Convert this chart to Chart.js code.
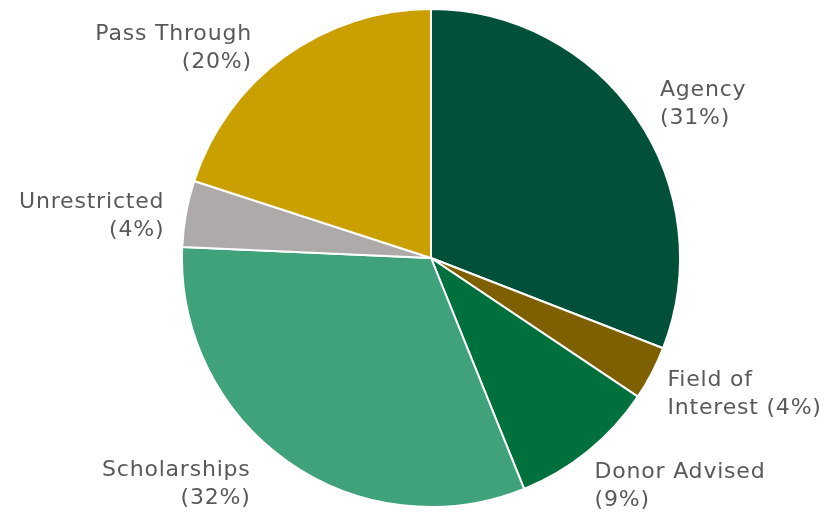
<!DOCTYPE html>
<html>
<head>
<meta charset="utf-8">
<script src="https://cdn.jsdelivr.net/npm/chart.js@4"></script>
<style>
  html, body { margin: 0; padding: 0; background: #fff; }
  #wrap { width: 832px; height: 512px; }
</style>
</head>
<body>
<div id="wrap"><canvas id="chart"></canvas></div>
<script>
// slices clockwise from 12 o'clock
const categories = ["Agency", "Field of Interest", "Donor Advised", "Scholarships", "Unrestricted", "Pass Through"];
const shares = [30.9, 3.5, 9.5, 31.8, 4.3, 20.0];
const shareLabels = ["31%", "4%", "9%", "32%", "4%", "20%"];
// how each label wraps onto two lines
const labelLines = [
  ["Agency", "(" + shareLabels[0] + ")"],
  ["Field of", "Interest (" + shareLabels[1] + ")"],
  ["Donor Advised", "(" + shareLabels[2] + ")"],
  ["Scholarships", "(" + shareLabels[3] + ")"],
  ["Unrestricted", "(" + shareLabels[4] + ")"],
  ["Pass Through", "(" + shareLabels[5] + ")"],
];
const colors = ["#00503A", "#7F6000", "#00703C", "#3FA27B", "#AEAAAA", "#C9A000"];

// outside labels, placed from each arc's mid angle (small nudges to sit like the original)
const nudge = [[1, -2], [-8, 12], [-12, 19], [-12, 7], [11, 6], [-8, 8]];
const outsideLabels = {
  id: "outsideLabels",
  afterDatasetsDraw(chart) {
    const ctx = chart.ctx;
    const arcs = chart.getDatasetMeta(0).data;
    ctx.save();
    ctx.font = "22px 'DejaVu Sans', sans-serif";
    ctx.letterSpacing = "0.8px";
    ctx.fillStyle = "#595959";
    ctx.textBaseline = "middle";
    arcs.forEach((arc, i) => {
      const mid = (arc.startAngle + arc.endAngle) / 2;
      const r = arc.outerRadius + 20;
      let x = arc.x + Math.cos(mid) * r;
      let y = arc.y + Math.sin(mid) * r;
      const right = Math.cos(mid) >= 0;
      ctx.textAlign = right ? "left" : "right";
      x += (right ? 6 : -13) + nudge[i][0];
      y += nudge[i][1];
      const lh = 28;
      const lines = labelLines[i];
      lines.forEach((t, k) => {
        ctx.fillText(t, x, y + (k - (lines.length - 1) / 2) * lh);
      });
    });
    ctx.restore();
  },
};

new Chart(document.getElementById("chart"), {
  type: "pie",
  data: {
    labels: categories,
    datasets: [{
      data: shares,
      backgroundColor: colors,
      borderColor: "#ffffff",
      borderWidth: 2,
    }],
  },
  options: {
    responsive: true,
    maintainAspectRatio: false,
    animation: false,
    layout: { padding: { top: 8, bottom: 4, left: 181, right: 151 } },
    plugins: {
      legend: { display: false },
      tooltip: { enabled: false },
    },
  },
  plugins: [outsideLabels],
});
</script>
</body>
</html>
